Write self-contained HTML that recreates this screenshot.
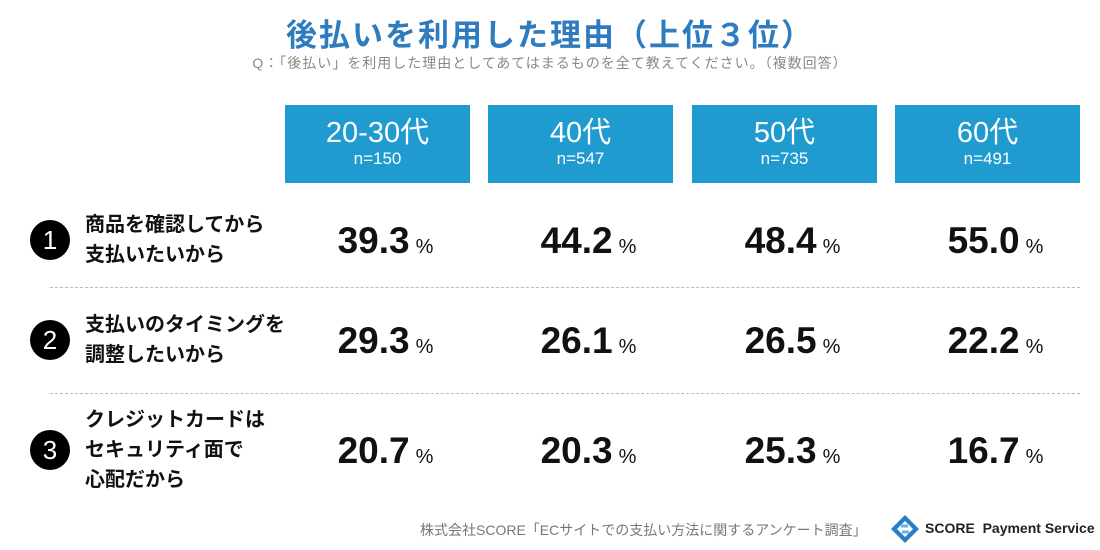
<!DOCTYPE html>
<html><head><meta charset="utf-8">
<style>
body{margin:0;width:1100px;height:550px;background:#fff;overflow:hidden;position:relative;font-family:"Liberation Sans","Noto Sans CJK JP",sans-serif;}
.abs{position:absolute;}
#title{left:0;width:1100px;top:10px;text-align:center;font-size:31px;font-weight:bold;color:#2e7bbf;letter-spacing:2px;}
#sub{left:0;width:1100px;top:53px;text-align:center;font-size:14px;color:#888;letter-spacing:1px;}
.hdr{top:105px;width:185px;height:78px;background:#1f9bcf;color:#fff;text-align:center;}
.hdr .a{font-size:29px;margin-top:12px;line-height:32px;}
.hdr .b{font-size:17px;line-height:20px;}
.circ{width:40px;height:40px;border-radius:50%;background:#000;color:#fff;font-size:26px;text-align:center;line-height:40px;left:30px;}
.lbl{left:85px;font-size:20px;font-weight:bold;color:#111;line-height:30px;}
.val{width:185px;text-align:center;color:#111;white-space:nowrap;}
.val .n{font-size:37px;font-weight:bold;}
.val .p{font-size:20px;margin-left:6px;}
.dash{left:50px;width:1030px;border-top:1.5px dashed #bbb;height:0;}
#foot{left:420px;top:520px;font-size:14px;color:#777;}
#logo{left:890px;top:514px;}
#brand{left:925px;top:520px;font-size:14px;font-weight:bold;color:#222;}
</style></head><body>
<div class="abs" id="title">後払いを利用した理由（上位３位）</div>
<div class="abs" id="sub">Q：「後払い」を利用した理由としてあてはまるものを全て教えてください。（複数回答）</div>
<div id="root"></div>
<div class="abs dash" style="top:287px"></div>
<div class="abs dash" style="top:393px"></div>
<div class="abs" id="foot">株式会社SCORE「ECサイトでの支払い方法に関するアンケート調査」</div>
<svg class="abs" id="logo" width="30" height="30" viewBox="0 0 30 30">
<polygon points="15,1 29,15 15,29 1,15" fill="#2a7fc4"/>
<polygon points="15,7 23,15 15,23 7,15" fill="#fff"/>
<path d="M11,12 L18,12 M12,18 L19,18" stroke="#5fb3e8" stroke-width="3"/>
</svg>
<div class="abs" id="brand">SCORE &nbsp;Payment Service</div>
<script>
const groups=["20-30代","40代","50代","60代"];
const samples=["n=150","n=547","n=735","n=491"];
const reasons=[["商品を確認してから","支払いたいから"],["支払いのタイミングを","調整したいから"],["クレジットカードは","セキュリティ面で","心配だから"]];
const row1=[39.3,44.2,48.4,55.0];
const row2=[29.3,26.1,26.5,22.2];
const row3=[20.7,20.3,25.3,16.7];
const values=[row1,row2,row3];
const colX=[285,488,692,895];
const rowY=[240,340,450];
const root=document.getElementById('root');
groups.forEach((g,i)=>{
 const d=document.createElement('div');
 d.className='abs hdr';d.style.left=colX[i]+'px';
 
 
 d.innerHTML='<div class="a">'+g+'</div><div class="b">'+samples[i]+'</div>';
 root.appendChild(d);
});
reasons.forEach((r,j)=>{
 const c=document.createElement('div');
 c.className='abs circ';c.style.top=(rowY[j]-20)+'px';c.textContent=j+1;
 
 
 root.appendChild(c);
 const l=document.createElement('div');
 l.className='abs lbl';l.style.top=(rowY[j]-r.length*15)+'px';l.innerHTML=r.join('<br>');
 
 
 root.appendChild(l);
 values[j].forEach((v,i)=>{
  const e=document.createElement('div');
  e.className='abs val';e.style.left=(colX[i]+8)+'px';e.style.top=(rowY[j]-20)+'px';
  
  
  e.innerHTML='<span class="n">'+v.toFixed(1)+'</span><span class="p">%</span>';
  root.appendChild(e);
 });
});
</script>
</body></html>
